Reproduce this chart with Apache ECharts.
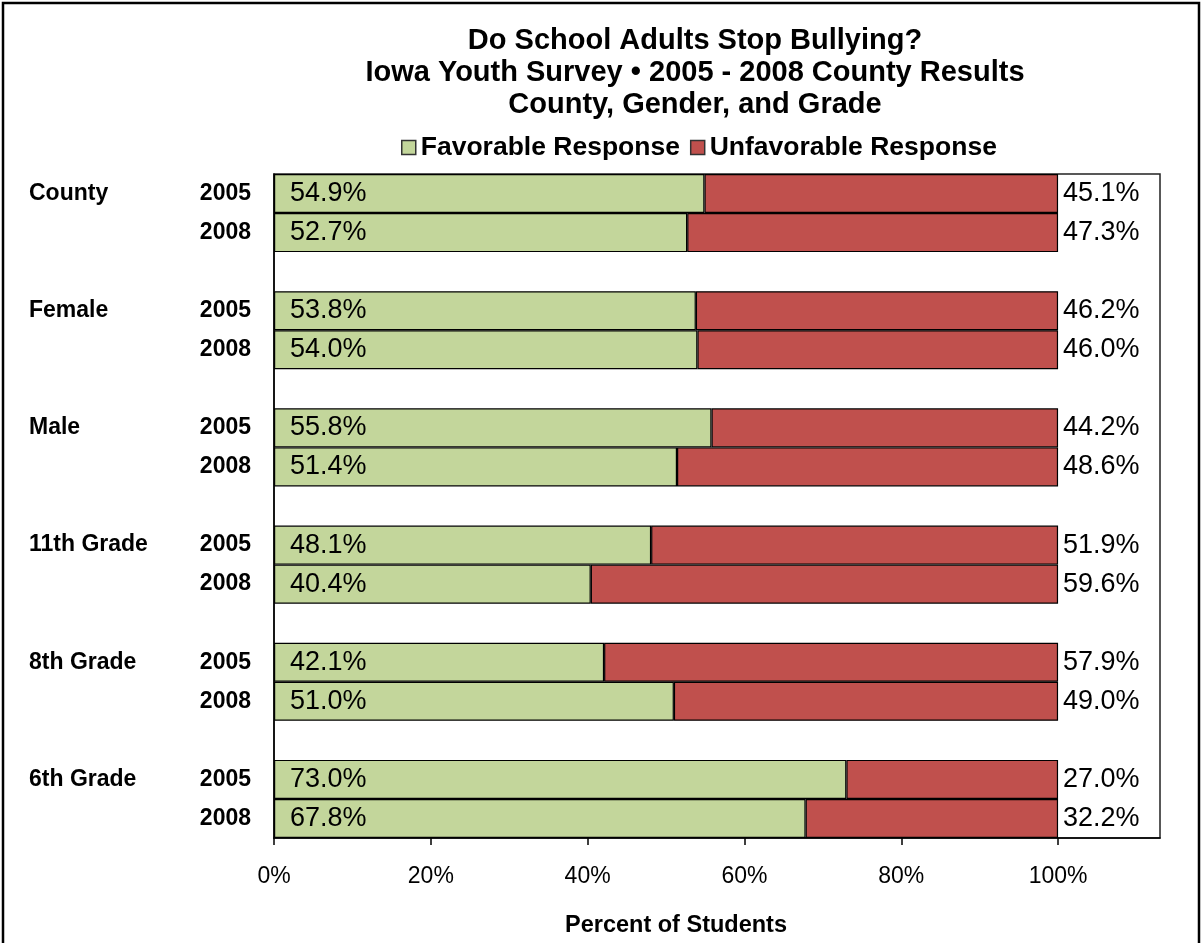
<!DOCTYPE html>
<html>
<head>
<meta charset="utf-8">
<script src="https://cdn.jsdelivr.net/npm/echarts@6/dist/echarts.min.js"></script>
<style>
html,body{margin:0;padding:0;background:#fff;}
#chart{width:1202px;height:943px;}
</style>
</head>
<body>
<div id="chart"></div>
<script>
// ---- data ----
var groups = ['County', 'Female', 'Male', '11th Grade', '8th Grade', '6th Grade'];
var years = ['2005', '2008'];
var favorable2005 = [54.9, 53.8, 55.8, 48.1, 42.1, 73.0];
var favorable2008 = [52.7, 54.0, 51.4, 40.4, 51.0, 67.8];
var unfavorable2005 = [45.1, 46.2, 44.2, 51.9, 57.9, 27.0];
var unfavorable2008 = [47.3, 46.0, 48.6, 59.6, 49.0, 32.2];
var tickValues = [0, 20, 40, 60, 80, 100];
var seriesNames = ['Favorable Response', 'Unfavorable Response'];
var titleLines = ['Do School Adults Stop Bullying?', 'Iowa Youth Survey \u2022 2005 - 2008 County Results', 'County, Gender, and Grade'];
var axisTitle = 'Percent of Students';

// ---- build category rows (group rows with spacer rows between groups) ----
var cats = [], fav = [], unf = [];
groups.forEach(function (g, i) {
  if (i > 0) { cats.push('gap' + i); fav.push('-'); unf.push('-'); }
  cats.push(g + '|' + years[0]); fav.push(favorable2005[i]); unf.push(unfavorable2005[i]);
  cats.push('|' + years[1]); fav.push(favorable2008[i]); unf.push(unfavorable2008[i]);
});
cats = cats.map(function (c, i) { return c.charAt(0) === '|' ? ('#' + i + c) : c; });

var FONT = '"Liberation Sans", Arial, Helvetica, sans-serif';
var chart = echarts.init(document.getElementById('chart'));
chart.setOption({
  backgroundColor: '#fff',
  animation: false,
  textStyle: { fontFamily: FONT },
  graphic: [{
    type: 'rect', silent: true,
    shape: { x: 3, y: 3, width: 1196, height: 960 },
    style: { fill: 'none', stroke: '#000', lineWidth: 2.5 }
  }],
  title: {
    text: titleLines.join('\n'),
    left: 690, top: 20, textAlign: 'center',
    textStyle: { fontFamily: FONT, fontSize: 29, fontWeight: 'bold', color: '#000', lineHeight: 32 }
  },
  legend: {
    left: 396, top: 129,
    itemWidth: 14, itemHeight: 14, itemGap: 10,
    icon: 'rect',
    itemStyle: { borderColor: '#333', borderWidth: 1.5 },
    textStyle: { fontFamily: FONT, fontSize: 26.5, fontWeight: 'bold', color: '#000' },
    data: seriesNames
  },
  grid: {
    left: 274, top: 174, right: 42, bottom: 103,
    show: true, borderColor: '#222', borderWidth: 1.5, backgroundColor: '#fff'
  },
  xAxis: {
    type: 'value', min: 0, max: 113, interval: 20,
    name: axisTitle, nameLocation: 'middle', nameGap: 76,
    nameTextStyle: { fontFamily: FONT, fontSize: 23.5, fontWeight: 'bold', color: '#000', padding: [0, 82, 0, 0] },
    axisLine: { show: true, lineStyle: { color: '#000', width: 1.5 } },
    axisTick: { show: true, length: 7, inside: false, customValues: tickValues, lineStyle: { color: '#000', width: 1.5 } },
    axisLabel: { customValues: tickValues, margin: 27, fontFamily: FONT, fontSize: 23, color: '#000', formatter: '{value}%' },
    splitLine: { show: false }
  },
  yAxis: {
    type: 'category', inverse: true, data: cats,
    axisLine: { show: true, lineStyle: { color: '#000', width: 1.5 } },
    axisTick: { show: false },
    splitLine: { show: false },
    axisLabel: {
      margin: 23, interval: 0,
      formatter: function (v) {
        if (v.indexOf('gap') === 0) return '';
        var parts = v.split('|');
        var g = parts[0].charAt(0) === '#' ? '' : parts[0];
        return '{g|' + g + '}{y|' + parts[1] + '}';
      },
      rich: {
        g: { width: 164, align: 'left', fontFamily: FONT, fontSize: 23, fontWeight: 'bold', color: '#000' },
        y: { width: 58, align: 'right', fontFamily: FONT, fontSize: 23, fontWeight: 'bold', color: '#000' }
      }
    }
  },
  series: [{
    name: seriesNames[0], type: 'bar', stack: 'a', data: fav,
    barWidth: '100%', barCategoryGap: 0,
    itemStyle: { color: '#C3D69B', borderColor: '#000', borderWidth: 1.2 },
    label: {
      show: true, position: 'insideLeft', distance: 16,
      fontFamily: FONT, fontSize: 27, color: '#000',
      formatter: function (p) { return p.value.toFixed(1) + '%'; }
    }
  }, {
    name: seriesNames[1], type: 'bar', stack: 'a', data: unf,
    barWidth: '100%', barCategoryGap: 0,
    itemStyle: { color: '#C0504D', borderColor: '#000', borderWidth: 1.2 },
    label: {
      show: true, position: 'right', distance: 5,
      fontFamily: FONT, fontSize: 27, color: '#000',
      formatter: function (p) { return p.value.toFixed(1) + '%'; }
    }
  }]
});
</script>
</body>
</html>
